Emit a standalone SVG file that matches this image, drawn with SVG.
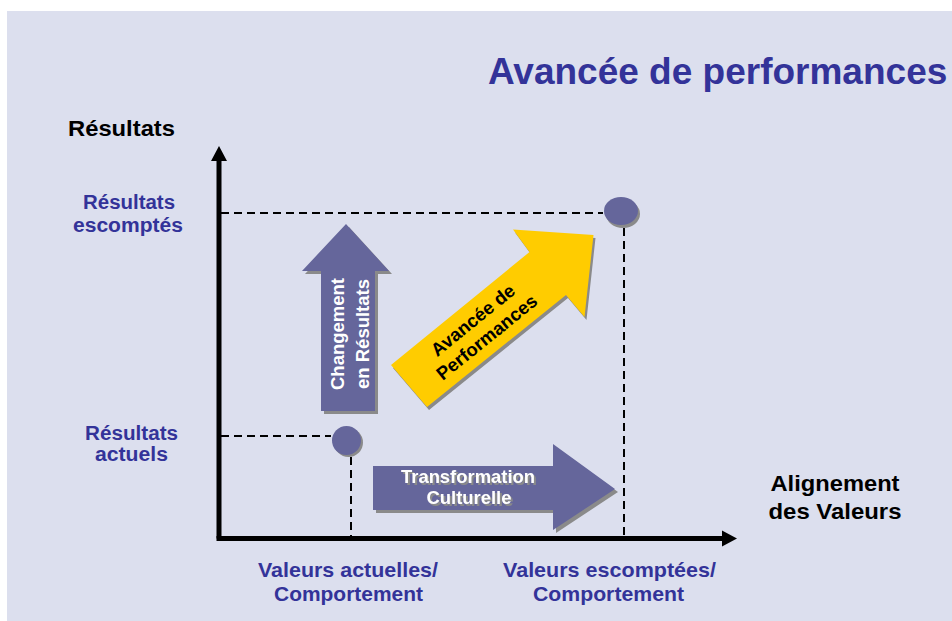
<svg xmlns="http://www.w3.org/2000/svg" width="952" height="621" viewBox="0 0 952 621">
  <defs>
    <style>
      text { font-family: "Liberation Sans", Arial, sans-serif; font-weight: bold; }
      .title { fill: #333399; font-size: 37px; }
      .axis-label { fill: #000000; font-size: 22px; }
      .level { fill: #333399; font-size: 19.5px; text-anchor: middle; }
      .value { fill: #333399; font-size: 20.5px; text-anchor: middle; }
      .arrow-text { fill: #ffffff; font-size: 18.5px; text-anchor: middle; }
      .yellow-text { fill: #000000; font-size: 18.5px; text-anchor: middle; }
      .axis { stroke: #000000; stroke-width: 5; fill: none; }
      .guide { stroke: #000000; stroke-width: 2; stroke-dasharray: 8 5; fill: none; }
      .purple { fill: #65669b; }
      .yellow { fill: #ffcc00; }
      .shadow { fill: #8a8a8a; }
    </style>
    <!-- grey offset copy behind white arrow captions -->
    <filter id="text-shadow" x="-10%" y="-30%" width="120%" height="160%">
      <feFlood flood-color="#8a8a8a" result="grey"/>
      <feComposite in="grey" in2="SourceAlpha" operator="in" result="tint"/>
      <feOffset in="tint" dx="2" dy="2" result="offset"/>
      <feMerge>
        <feMergeNode in="offset"/>
        <feMergeNode in="SourceGraphic"/>
      </feMerge>
    </filter>
  </defs>

  <!-- page background -->
  <rect x="0" y="0" width="952" height="621" fill="#ffffff"/>
  <rect x="7" y="11" width="945" height="610" fill="#dcdfee"/>

  <g id="title">
    <text class="title" x="488" y="84">Avancée de performances</text>
  </g>

  <!-- axes and guide lines -->
  <g id="connectors">
    <line class="guide" x1="221" y1="213" x2="603" y2="213"/>
    <line class="guide" x1="221" y1="436" x2="331" y2="436"/>
    <line class="guide" x1="351" y1="457" x2="351" y2="536"/>
    <line class="guide" x1="624" y1="228" x2="624" y2="536"/>
    <line class="axis" x1="219" y1="160" x2="219" y2="538.5"/>
    <polygon points="219,146 211,161 227,161" fill="#000000"/>
    <line class="axis" x1="216.5" y1="538.5" x2="723" y2="538.5"/>
    <polygon points="737,538.5 722,530.5 722,546.5" fill="#000000"/>
  </g>

  <g id="label-y-axis">
    <text class="axis-label" x="68" y="136" textLength="107" lengthAdjust="spacingAndGlyphs">Résultats</text>
  </g>
  <g id="label-x-axis">
    <text class="axis-label" x="835" y="491" text-anchor="middle" textLength="129" lengthAdjust="spacingAndGlyphs">Alignement</text>
    <text class="axis-label" x="835" y="519" text-anchor="middle" textLength="133" lengthAdjust="spacingAndGlyphs">des Valeurs</text>
  </g>

  <g id="label-expected-results">
    <text class="level" x="129" y="209" textLength="92" lengthAdjust="spacingAndGlyphs">Résultats</text>
    <text class="level" x="128" y="231.5" textLength="110" lengthAdjust="spacingAndGlyphs">escomptés</text>
  </g>
  <g id="label-current-results">
    <text class="level" x="131.5" y="440" textLength="93" lengthAdjust="spacingAndGlyphs">Résultats</text>
    <text class="level" x="131.5" y="461" textLength="73" lengthAdjust="spacingAndGlyphs">actuels</text>
  </g>

  <g id="label-current-values">
    <text class="value" x="348" y="577" textLength="180" lengthAdjust="spacingAndGlyphs">Valeurs actuelles/</text>
    <text class="value" x="348.5" y="601" textLength="149" lengthAdjust="spacingAndGlyphs">Comportement</text>
  </g>
  <g id="label-expected-values">
    <text class="value" x="609.5" y="577" textLength="213" lengthAdjust="spacingAndGlyphs">Valeurs escomptées/</text>
    <text class="value" x="608.5" y="601" textLength="151" lengthAdjust="spacingAndGlyphs">Comportement</text>
  </g>

  <!-- start point -->
  <g id="point-current">
    <circle class="shadow" cx="348.5" cy="442.5" r="14.5"/>
    <circle class="purple" cx="346.5" cy="440.5" r="14.5"/>
  </g>

  <!-- target point -->
  <g id="point-expected">
    <ellipse class="shadow" cx="623" cy="214" rx="17" ry="14"/>
    <ellipse class="purple" cx="621" cy="211" rx="17" ry="14"/>
  </g>

  <!-- vertical arrow: change in results -->
  <g id="arrow-results">
    <polygon class="shadow" points="349,227 392,274 378,274 378,414 324,414 324,274 305,274"/>
    <polygon class="purple" points="346,224 389,271 375,271 375,411 321,411 321,271 302,271"/>
    <g transform="translate(348.5,334) rotate(-90)">
      <text class="arrow-text" x="0" y="-4.5">Changement</text>
      <text class="arrow-text" x="0" y="20">en Résultats</text>
    </g>
  </g>

  <!-- horizontal arrow: cultural transformation -->
  <g id="arrow-culture">
    <polygon class="shadow" points="376,469 556,469 556,447 618,492 556,533 556,513 376,513"/>
    <polygon class="purple" points="373,466 553,466 553,444 615,489 553,530 553,510 373,510"/>
    <g filter="url(#text-shadow)">
      <text class="arrow-text" x="468" y="483" textLength="134" lengthAdjust="spacingAndGlyphs">Transformation</text>
      <text class="arrow-text" x="469" y="504" textLength="85" lengthAdjust="spacingAndGlyphs">Culturelle</text>
    </g>
  </g>

  <!-- diagonal arrow: performance gain -->
  <g id="arrow-performance">
    <polygon class="shadow" points="595.5,238 515,232.5 531.5,255 393,368 429,410 568,298 586.5,320"/>
    <polygon class="yellow" points="593.5,235 513,229.5 529.5,252 391,365 427,407 566,295 584.5,317"/>
    <g transform="translate(480,329) rotate(-39)">
      <text class="yellow-text" x="0" y="-5">Avancée de</text>
      <text class="yellow-text" x="0" y="17">Performances</text>
    </g>
  </g>
</svg>
